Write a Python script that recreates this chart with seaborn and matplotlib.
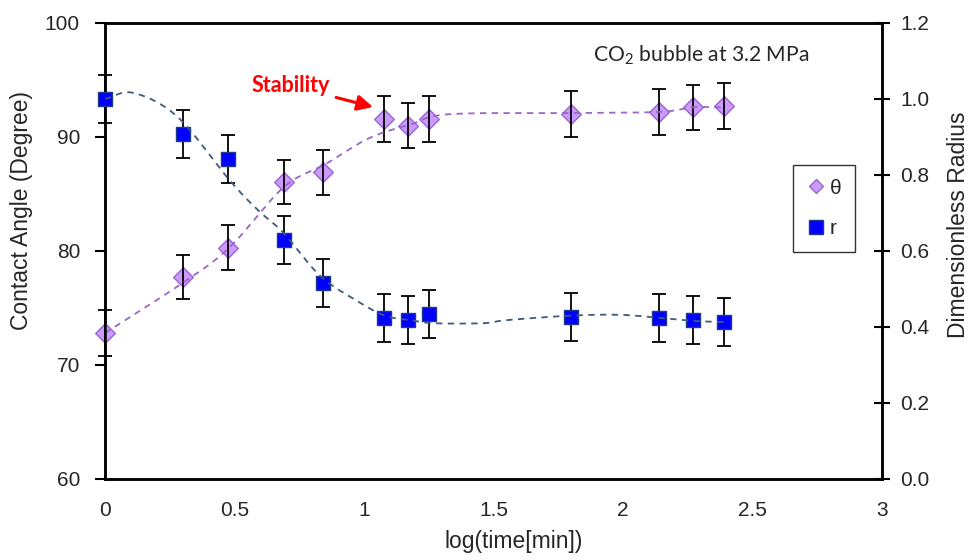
import numpy as np
import matplotlib
matplotlib.use("Agg")
import matplotlib.pyplot as plt
import seaborn as sns
from matplotlib.lines import Line2D

# Measured points
log_time = [0.0, 0.30, 0.475, 0.69, 0.84, 1.077, 1.17, 1.25, 1.80, 2.14, 2.27, 2.39]
theta = [72.8, 77.7, 80.3, 86.05, 86.9, 91.6, 91.0, 91.6, 92.0, 92.2, 92.6, 92.7]
theta_err = [2.0, 1.95, 1.95, 1.95, 2.0, 2.0, 2.0, 2.0, 2.0, 2.0, 2.0, 2.0]
radius = [1.0, 0.908, 0.842, 0.629, 0.516, 0.424, 0.418, 0.434, 0.426, 0.424, 0.418, 0.413]
radius_err = [0.063, 0.063, 0.063, 0.063, 0.063, 0.063, 0.063, 0.063, 0.063, 0.063, 0.063, 0.063]

# Trend-line nodes
theta_fit_x = [0.0, 0.30, 0.48, 0.69, 0.85, 1.02, 1.18, 1.33, 1.80, 2.14, 2.27, 2.39]
theta_fit = [72.8, 77.2, 80.3, 85.6, 87.6, 89.9, 91.1, 92.0, 92.1, 92.2, 92.6, 92.6]
radius_fit_x = [0.0, 0.11, 0.28, 0.48, 0.59, 0.69, 0.83, 0.97, 1.08, 1.18, 1.27,
                1.46, 1.55, 1.80, 1.99, 2.14, 2.27, 2.39]
radius_fit = [1.0, 1.016, 0.953, 0.787, 0.708, 0.647, 0.535, 0.47, 0.43, 0.418, 0.41,
              0.41, 0.418, 0.43, 0.432, 0.424, 0.416, 0.413]

x_ticks = [0, 0.5, 1, 1.5, 2, 2.5, 3]
x_tick_labels = ["0", "0.5", "1", "1.5", "2", "2.5", "3"]
theta_ticks = [60, 70, 80, 90, 100]
radius_ticks = [0.0, 0.2, 0.4, 0.6, 0.8, 1.0, 1.2]


def catmull_rom(xs, ys, n=40):
    """Smooth parametric curve through the given nodes."""
    P = np.column_stack([xs, ys]).astype(float)
    P = np.vstack([2 * P[0] - P[1], P, 2 * P[-1] - P[-2]])
    t = np.linspace(0, 1, n, endpoint=False)[:, None]
    parts = []
    for i in range(1, len(P) - 2):
        p0, p1, p2, p3 = P[i - 1], P[i], P[i + 1], P[i + 2]
        parts.append(0.5 * (2 * p1 + (p2 - p0) * t
                            + (2 * p0 - 5 * p1 + 4 * p2 - p3) * t ** 2
                            + (-p0 + 3 * p1 - 3 * p2 + p3) * t ** 3))
    parts.append(P[-2][None, :])
    c = np.vstack(parts)
    return c[:, 0], c[:, 1]


sns.set_theme(style="white")
plt.rcParams["font.family"] = ["Liberation Sans", "DejaVu Sans"]
plt.rcParams["mathtext.default"] = "regular"

TEXT = "#262626"
THETA_FILL = "#CC99FF"
THETA_EDGE = "#9966CC"
R_FILL = "#0000FF"
R_EDGE = "#1F3A8A"
R_LINE = "#3F5A7A"

fig = plt.figure(figsize=(9.74, 5.6), dpi=100)
ax = fig.add_axes([105 / 974, 1 - 479 / 560, (882 - 105) / 974, (479 - 23) / 560])
ax2 = ax.twinx()

# contact angle
sns.scatterplot(x=log_time, y=theta, ax=ax, marker="D", s=100, color=THETA_FILL,
                edgecolor=THETA_EDGE, linewidth=1.0, zorder=3, clip_on=False, legend=False)
ax.errorbar(log_time, theta, yerr=theta_err, fmt="none", ecolor="black",
            elinewidth=1.3, capsize=5, capthick=1.3, zorder=4, clip_on=False)
tx, ty = catmull_rom(theta_fit_x, theta_fit)
sns.lineplot(x=tx, y=ty, ax=ax, sort=False, estimator=None, color=THETA_EDGE,
             linewidth=1.3, linestyle=(0, (3.5, 3)), zorder=5)

# dimensionless radius
sns.scatterplot(x=log_time, y=radius, ax=ax2, marker="s", s=92, color=R_FILL,
                edgecolor=R_EDGE, linewidth=1.0, zorder=3, clip_on=False, legend=False)
ax2.errorbar(log_time, radius, yerr=radius_err, fmt="none", ecolor="black",
             elinewidth=1.3, capsize=5, capthick=1.3, zorder=2, clip_on=False)
rx, ry = catmull_rom(radius_fit_x, radius_fit)
sns.lineplot(x=rx, y=ry, ax=ax2, sort=False, estimator=None, color=R_LINE,
             linewidth=1.3, linestyle=(0, (3.5, 3)), zorder=5)

ax.set_xlim(0, 3)
ax.set_ylim(60, 100)
ax2.set_ylim(0, 1.2)
ax.set_xticks(x_ticks)
ax.set_xticklabels(x_tick_labels)
ax.set_yticks(theta_ticks)
ax2.set_yticks(radius_ticks)
ax2.set_yticklabels([f"{v:.1f}" for v in radius_ticks])

for a in (ax, ax2):
    for sp in a.spines.values():
        sp.set_visible(True)
        sp.set_color("black")
        sp.set_linewidth(1.8)
    a.grid(False)

ax.tick_params(axis="both", direction="out", length=7, width=1.5, color="black",
               labelsize=15, labelcolor=TEXT, pad=9)
ax.tick_params(axis="y", pad=11)
ax2.tick_params(axis="y", direction="inout", length=12, width=1.5, color="black",
                labelsize=15, labelcolor=TEXT, pad=7)

ax.set_xlabel("log(time[min])", fontsize=16.5, color=TEXT)
ax.set_ylabel("Contact Angle (Degree)", fontsize=16.5, color=TEXT)
ax2.set_ylabel("Dimensionless Radius", fontsize=16.5, color=TEXT)
ax.xaxis.set_label_coords(0.526, -0.112)
ax.yaxis.set_label_coords(-0.093, 0.588)
ax2.yaxis.set_label_coords(1.084, 0.557)

ax.text(2.30, 97.2, "CO$_2$ bubble at 3.2 MPa", fontsize=15.2, color=TEXT,
        ha="center", va="center", family=["Lato", "DejaVu Sans"])
ax.annotate("Stability", xy=(1.04, 92.6), xytext=(0.718, 94.5),
            fontsize=15.5, fontweight="bold", color="#FF0000", ha="center", va="center",
            family=["Lato", "DejaVu Sans"],
            arrowprops=dict(arrowstyle="-|>,head_length=0.6,head_width=0.3",
                            color="#FF0000", lw=2.2, shrinkA=2, shrinkB=1))

handles = [
    Line2D([], [], marker="D", linestyle="none", markersize=6.8,
           markerfacecolor=THETA_FILL, markeredgecolor=THETA_EDGE, label="θ"),
    Line2D([], [], marker="s", linestyle="none", markersize=9.5,
           markerfacecolor=R_FILL, markeredgecolor=R_EDGE, label="r"),
]
leg = ax2.legend(handles=handles, loc="upper left",
                 bbox_to_anchor=(793 / 974, 1 - 165 / 560), bbox_transform=fig.transFigure,
                 borderaxespad=0, frameon=True, fancybox=False, fontsize=15,
                 handlelength=0.9, handletextpad=0.2, labelspacing=1.05,
                 borderpad=0.65, labelcolor=TEXT)
leg.get_frame().set_edgecolor("black")
leg.get_frame().set_linewidth(1.0)

fig.savefig("out.png", dpi=100)
